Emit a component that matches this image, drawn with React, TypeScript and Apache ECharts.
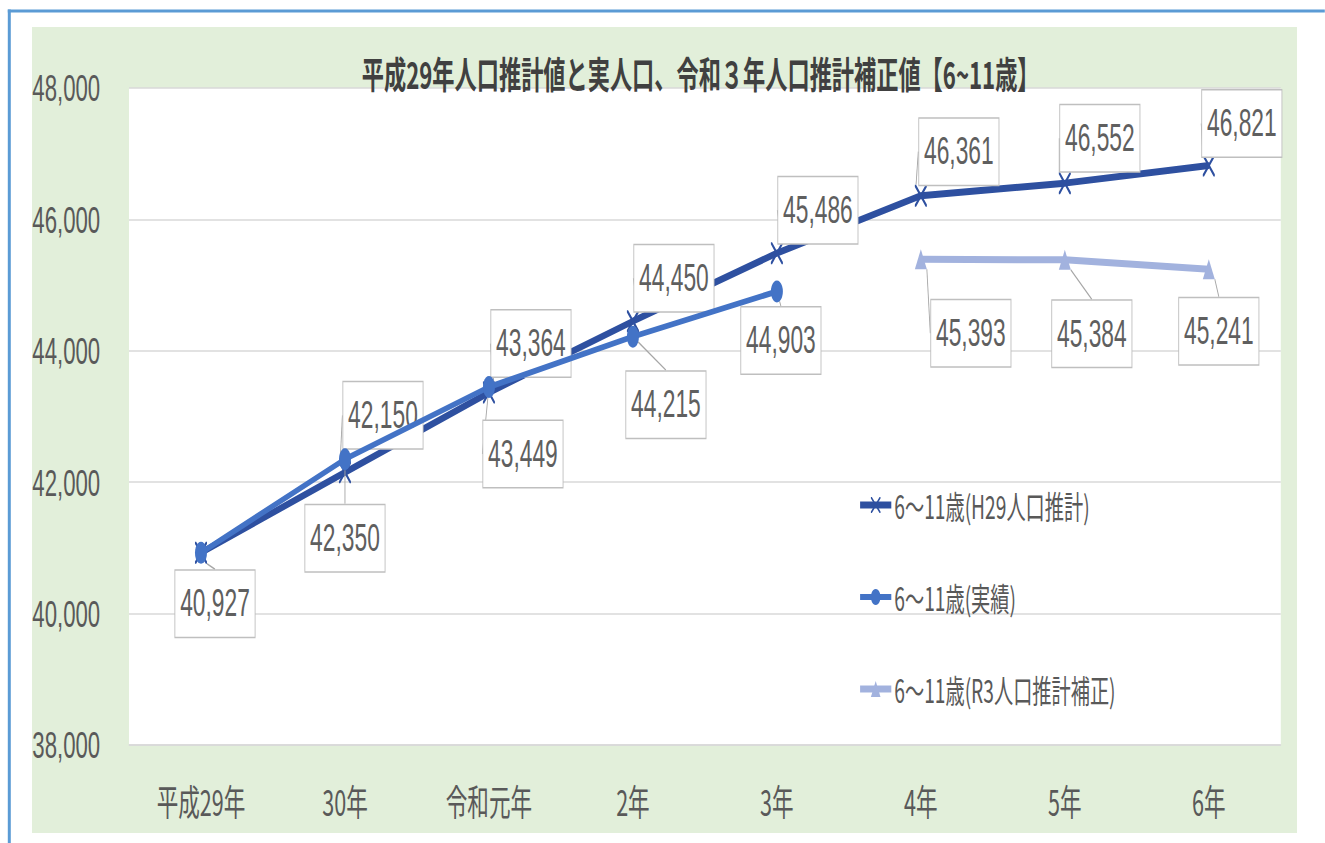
import React, { useEffect, useRef } from "react";
import * as echarts from "echarts";

// ---- data ----
const categories = ["平成29年", "30年", "令和元年", "2年", "3年", "4年", "5年", "6年"];
const seriesNames = ["6～11歳(H29人口推計)", "6～11歳(実績)", "6～11歳(R3人口推計補正)"];
const h29Values = [40927, 42150, 43364, 44450, 45486, 46361, 46552, 46821];
const actualValues = [40927, 42350, 43449, 44215, 44903, null, null, null];
const r3Values = [null, null, null, null, null, 45393, 45384, 45241];
const yMin = 38000;
const yMax = 48000;
const yInterval = 2000;
const titleText = "平成29年人口推計値と実人口、令和３年人口推計補正値【6~11歳】";

// label offsets (screen px, from point centre to label box centre)
const h29LabelOffsets: (number[] | null)[] = [[14, 51], [38, -57], [42, -49], [41, -43], [41, -43], [38, -44], [35, -45], [33, -42]];
const actualLabelOffsets: (number[] | null)[] = [null, [0, 79], [34, 67], [33, 68], [4, 49], null, null, null];
const r3LabelOffsets: (number[] | null)[] = [null, null, null, null, null, [50, 74], [27, 74], [10, 62]];

// ---- layout ----
const S = 0.6; // horizontal compression of the reference picture
const WIDTH = 1325;
const HEIGHT = 843;
const W = WIDTH / S;

const colH29 = "#2E50A0";
const colActual = "#4373C6";
const colR3 = "#A2B2DE";
const textGray = "#595959";

const xSymbol = "path://M0,0 L2,0 L10,8 L18,0 L20,0 L20,2 L12,10 L20,18 L20,20 L18,20 L10,12 L2,20 L0,20 L0,18 L8,10 L0,2 Z";

const fmt = (v: number) => v.toLocaleString("en-US");

function makeLayout(offs: (number[] | null)[]) {
  return (params: any) => {
    const o = offs[params.dataIndex];
    if (!o) return {};
    const r = params.rect;
    return {
      x: r.x + r.width / 2 + o[0] / S,
      y: r.y + r.height / 2 + o[1],
      align: "center",
      verticalAlign: "middle",
    };
  };
}

const labelStyle = {
  show: true,
  formatter: (p: any) => (p.value == null ? "" : fmt(p.value)),
  fontFamily: "'Liberation Sans', sans-serif",
  fontSize: 38,
  color: "#5f5f5f",
  backgroundColor: "#ffffff",
  borderColor: "#BFBFBF",
  borderWidth: 1.5,
  padding: [15, 8, 13, 8],
};

const labelLine = { show: true, lineStyle: { color: "#A6A6A6", width: 1.5 } };

export default function App() {
  const ref = useRef<HTMLDivElement>(null);
  useEffect(() => {
    const chart = echarts.init(ref.current!, null, { renderer: "svg" });
    const option: any = {
      animation: false,
      backgroundColor: "#ffffff",
      graphic: [
        { type: "rect", shape: { x: 13, y: 9.5, width: W, height: 3 }, style: { fill: "#5B9BD5" }, silent: true },
        { type: "rect", shape: { x: 13, y: 9.5, width: 5, height: HEIGHT }, style: { fill: "#5B9BD5" }, silent: true },
        { type: "rect", shape: { x: 32 / S, y: 27, width: (1297 - 32) / S, height: 806 }, style: { fill: "#E2EFDA" }, silent: true, z: -10 },
      ],
      title: {
        text: titleText,
        left: 598,
        top: 50,
        textStyle: { fontSize: 37, fontWeight: "bold", color: "#404040", fontFamily: "'Noto Sans CJK JP', sans-serif" },
      },
      grid: {
        left: 129 / S,
        right: (WIDTH - 1281) / S,
        top: 88,
        bottom: HEIGHT - 745,
        show: true,
        backgroundColor: "#ffffff",
        borderWidth: 0,
      },
      legend: {
        orient: "vertical",
        left: 855 / S,
        top: 484,
        itemGap: 60,
        itemWidth: 52,
        itemHeight: 20,
        data: [
          { name: seriesNames[0], lineStyle: { width: 7 } },
          { name: seriesNames[1], lineStyle: { width: 6 } },
          { name: seriesNames[2], lineStyle: { width: 7 } },
        ],
        textStyle: { fontSize: 32, color: textGray, fontFamily: "'Noto Sans CJK JP', sans-serif" },
      },
      xAxis: {
        type: "category",
        data: categories,
        boundaryGap: true,
        axisLine: { show: true, lineStyle: { color: "#D9D9D9", width: 1.5 } },
        axisTick: { show: false },
        axisLabel: { fontSize: 36, color: textGray, margin: 38, fontFamily: "'Noto Sans CJK JP', sans-serif" },
      },
      yAxis: {
        type: "value",
        min: yMin,
        max: yMax,
        interval: yInterval,
        axisLine: { show: false },
        axisTick: { show: false },
        splitLine: { lineStyle: { color: "#D9D9D9", width: 1.5 } },
        axisLabel: { fontSize: 37, color: textGray, margin: 48, formatter: (v: number) => fmt(v), fontFamily: "'Liberation Sans', sans-serif" },
      },
      series: [
        {
          name: seriesNames[0],
          type: "line",
          data: h29Values,
          color: colH29,
          lineStyle: { width: 7, color: colH29 },
          symbol: xSymbol,
          symbolSize: [20, 22],
          itemStyle: { color: colH29 },
          label: labelStyle,
          labelLayout: makeLayout(h29LabelOffsets),
          labelLine,
          z: 2,
        },
        {
          name: seriesNames[1],
          type: "line",
          data: actualValues.map((v, i) => (i === 0 ? { value: v, label: { show: false } } : v)),
          color: colActual,
          lineStyle: { width: 6, color: colActual },
          symbol: "circle",
          symbolSize: [20, 22],
          itemStyle: { color: colActual },
          label: labelStyle,
          labelLayout: makeLayout(actualLabelOffsets),
          labelLine,
          z: 3,
        },
        {
          name: seriesNames[2],
          type: "line",
          data: r3Values,
          color: colR3,
          lineStyle: { width: 7, color: colR3 },
          symbol: "triangle",
          symbolSize: [20, 20],
          itemStyle: { color: colR3 },
          label: labelStyle,
          labelLayout: makeLayout(r3LabelOffsets),
          labelLine,
          z: 2,
        },
      ],
    };
    chart.setOption(option);
    return () => chart.dispose();
  }, []);
  return (
    <div style={{ position: "fixed", left: 0, top: 0, width: WIDTH, height: HEIGHT, overflow: "hidden", background: "#fff" }}>
      <div ref={ref} style={{ width: W, height: HEIGHT, transform: `scaleX(${S})`, transformOrigin: "0 0" }} />
    </div>
  );
}
